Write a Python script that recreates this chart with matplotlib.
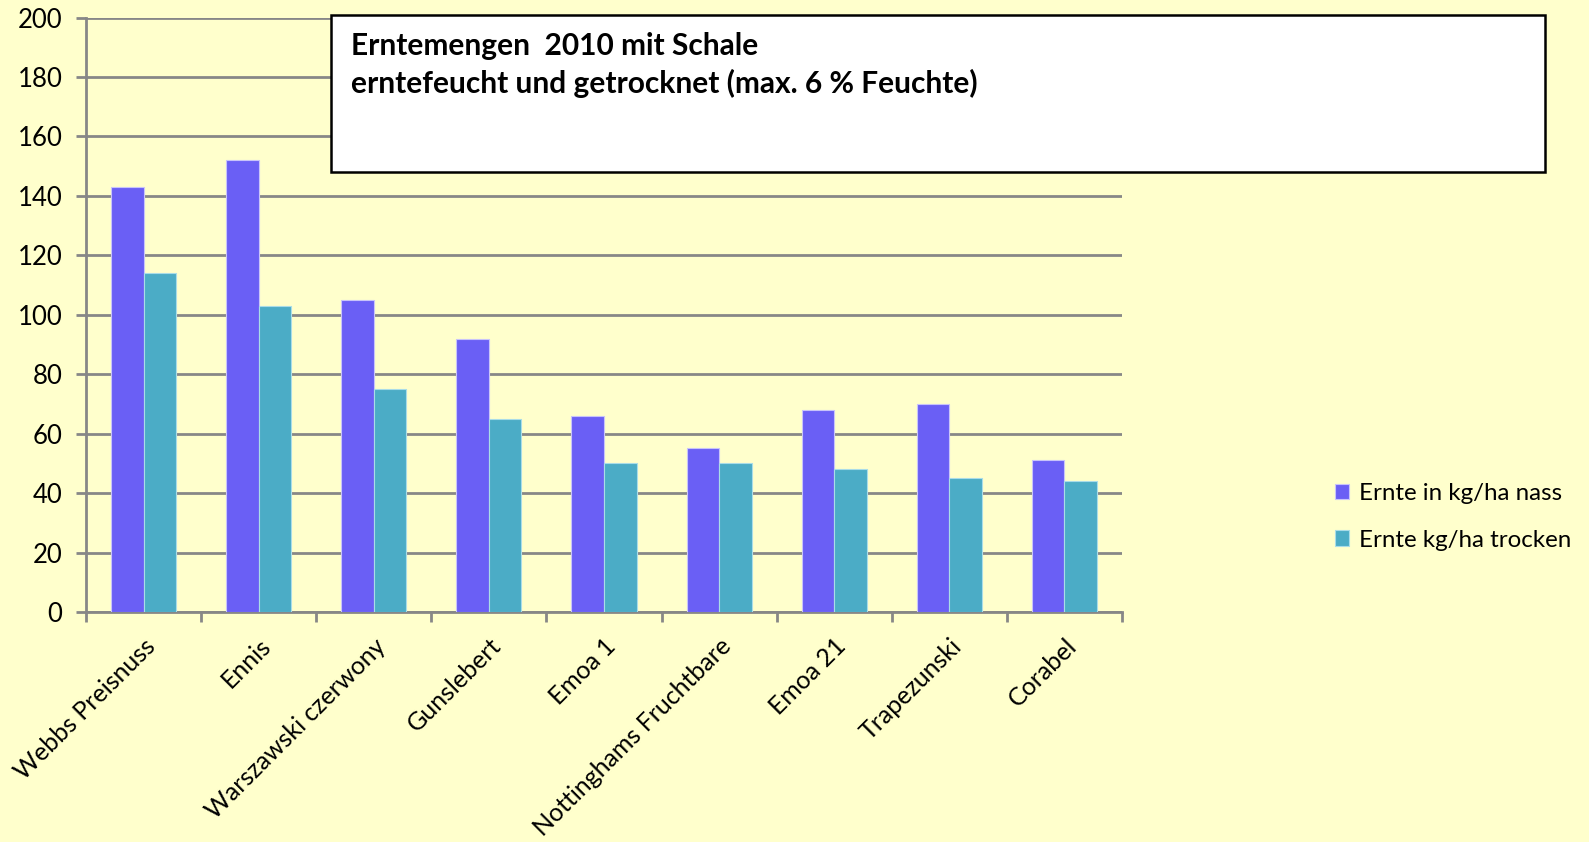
import numpy as np
import matplotlib
matplotlib.use("Agg")
import matplotlib.pyplot as plt
from matplotlib.patches import Rectangle

# Sorten und Erntemengen (kg/ha)
sorten = ["Webbs Preisnuss", "Ennis", "Warszawski czerwony", "Gunslebert", "Emoa 1",
          "Nottinghams Fruchtbare", "Emoa 21", "Trapezunski", "Corabel"]
nass = [143, 152, 105, 92, 66, 55, 68, 70, 51]
trocken = [114, 103, 75, 65, 50, 50, 48, 45, 44]
serien = ["Ernte in kg/ha nass", "Ernte kg/ha trocken"]
y_ticks = list(range(0, 201, 20))
titel = ["Erntemengen  2010 mit Schale", "erntefeucht und getrocknet (max. 6 % Feuchte)"]

BG = "#FFFFCC"
LILA = "#6A5FF5"
TUERKIS = "#4BACC6"
GRAU = "#878787"

plt.rcParams["font.family"] = ["Lato", "DejaVu Sans"]

fig = plt.figure(figsize=(15.89, 8.42), dpi=100, facecolor=BG)
ax = fig.add_axes([0.0541, 0.2732, 0.652, 0.706])
ax.set_facecolor(BG)

x = np.arange(len(sorten))
w = 0.283
ax.bar(x - w / 2, nass, w, color=LILA, edgecolor="#C8C4FA", linewidth=0.8, label=serien[0], zorder=3)
ax.bar(x + w / 2, trocken, w, color=TUERKIS, edgecolor="#A9DCE8", linewidth=0.8, label=serien[1], zorder=3)

ax.set_xlim(-0.5, len(sorten) - 0.5)
ax.set_ylim(0, 200)
ax.set_yticks(y_ticks)
ax.yaxis.grid(True, color=GRAU, linewidth=2, zorder=0)
ax.tick_params(axis="y", length=7, width=2, color=GRAU, labelsize=18.5, pad=10)

ax.set_xticks(x)
ax.set_xticklabels(sorten, rotation=45, ha="right", rotation_mode="anchor", fontsize=18)
ax.set_xticks(np.arange(-0.5, len(sorten)), minor=True)
ax.tick_params(axis="x", which="major", length=0, pad=16)
ax.tick_params(axis="x", which="minor", length=7, width=2, color=GRAU)

for s in ["top", "right"]:
    ax.spines[s].set_visible(False)
for s in ["left", "bottom"]:
    ax.spines[s].set_color(GRAU)
    ax.spines[s].set_linewidth(2)

# Titelbox
box = Rectangle((331 / 1589, 1 - 172 / 842), (1545 - 331) / 1589, (172 - 15) / 842,
                transform=fig.transFigure, facecolor="white", edgecolor="black",
                linewidth=1.8, zorder=10)
fig.patches.append(box)
fig.text(351 / 1589, 1 - 46 / 842, titel[0], fontsize=21.5, fontweight="bold",
         va="center", ha="left", zorder=11)
fig.text(351 / 1589, 1 - 83 / 842, titel[1], fontsize=21.5, fontweight="bold",
         va="center", ha="left", zorder=11)

leg = fig.legend(loc="center left", bbox_to_anchor=(1313 / 1589, 1 - 517 / 842), frameon=False,
                 fontsize=17.4, handlelength=0.6, handleheight=0.6, handletextpad=0.4, labelspacing=1.05)

fig.savefig("out.png", dpi=100, facecolor=BG)
